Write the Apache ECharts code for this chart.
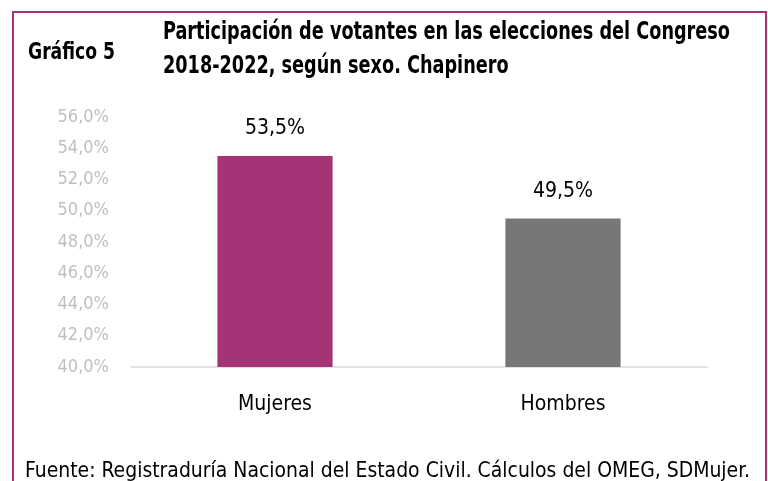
<!DOCTYPE html>
<html>
<head>
<meta charset="utf-8">
<script src="https://cdn.jsdelivr.net/npm/echarts@6/dist/echarts.min.js"></script>
<style>
  html, body { margin: 0; padding: 0; background: #fff; }
  #chart { width: 768px; height: 481px; }
</style>
</head>
<body>
<div id="chart"></div>
<script>
const categories = ['Mujeres', 'Hombres']
const values = [53.5, 49.5]
const barColors = ['#A43475', '#777777']
const yMin = 40
const yMax = 56
const yStep = 2

const titleLines = ['Participación de votantes en las elecciones del Congreso', '2018-2022, según sexo. Chapinero']
const chartNumber = 'Gráfico 5'
const source = 'Fuente: Registraduría Nacional del Estado Civil. Cálculos del OMEG, SDMujer.'

const family = "'DejaVu Sans Condensed', 'Liberation Sans Narrow', sans-serif"
const fmt = v => v.toFixed(1).replace('.', ',') + '%'

// the original uses a condensed face; squeeze text horizontally to the same width
const ctx = document.createElement('canvas').getContext('2d')
const squeeze = (text, font, target) => {
  ctx.font = font
  return target / ctx.measureText(text).width
}

const titleFont = 'bold 24px ' + family
const titleScale = squeeze(titleLines[0], titleFont, 567)
const numFont = 'bold 23px ' + family
const numScale = squeeze(chartNumber, numFont, 87)
const srcFont = '22px ' + family
const srcScale = squeeze(source, srcFont, 725)

const txt = (text, font, x, y, sx) => ({
  type: 'text', x: x, y: y, scaleX: sx,
  style: { text: text, font: font, fill: '#000', verticalAlign: 'middle' }
})

const myChart = echarts.init(document.getElementById('chart'))
myChart.setOption({
  animation: false,
  graphic: [
    {
      type: 'polyline',
      shape: { points: [[13, 490], [13, 12], [766, 12], [766, 490]] },
      style: { stroke: '#A43475', lineWidth: 2, fill: null }
    },
    txt(chartNumber, numFont, 28, 53, numScale),
    txt(titleLines[0], titleFont, 163, 33, titleScale),
    txt(titleLines[1], titleFont, 163, 67, titleScale),
    txt(source, srcFont, 25, 471, srcScale)
  ],
  grid: { left: 131, right: 61, top: 117, bottom: 114 },
  xAxis: {
    type: 'category',
    data: categories,
    axisLine: { lineStyle: { color: '#D9D9D9', width: 1.5 } },
    axisTick: { show: false },
    axisLabel: { fontFamily: family, fontSize: 21, color: '#000', margin: 27 }
  },
  yAxis: {
    type: 'value',
    min: yMin, max: yMax, interval: yStep,
    splitLine: { show: false },
    axisLine: { show: false },
    axisTick: { show: false },
    axisLabel: { fontFamily: family, fontSize: 18, color: '#BFBFBF', margin: 22, formatter: fmt }
  },
  series: [{
    type: 'bar',
    barWidth: '40%',
    data: values.map((v, i) => ({ value: v, itemStyle: { color: barColors[i] } })),
    label: {
      show: true, position: 'top', distance: 17,
      fontFamily: family, fontSize: 21, color: '#000',
      formatter: p => fmt(p.value)
    }
  }]
})
</script>
</body>
</html>
